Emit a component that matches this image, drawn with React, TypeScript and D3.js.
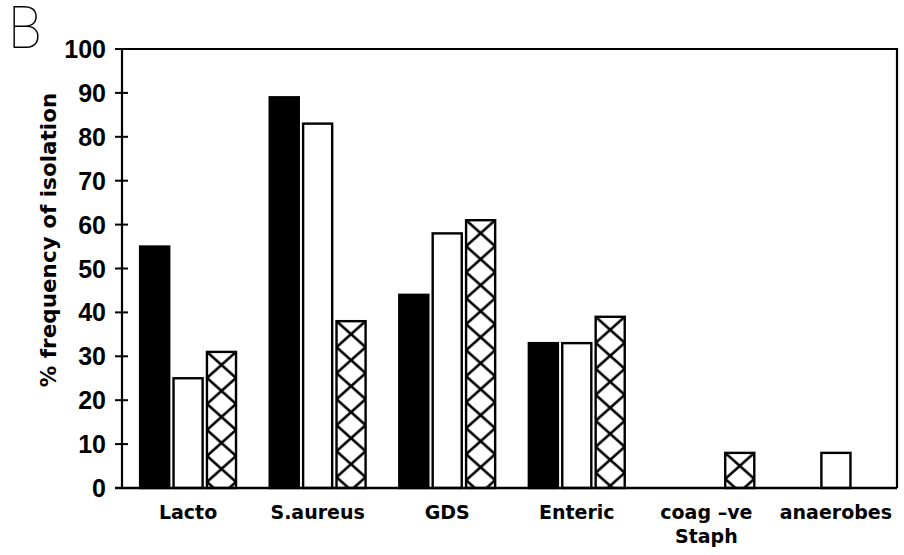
import React from "react";
import * as d3 from "d3";

const categories = ["Lacto", "S.aureus", "GDS", "Enteric", "coag –ve|Staph", "anaerobes"];
const series = ["solid", "open", "hatched"];
const solidValues = [55, 89, 44, 33, 0, 0];
const openValues = [25, 83, 58, 33, 0, 8];
const hatchedValues = [31, 38, 61, 39, 8, 0];
const yTicks = [0, 10, 20, 30, 40, 50, 60, 70, 80, 90, 100];

const W = 904;
const H = 555;
const left = 122;
const right = 897;
const top = 49;
const bottom = 488;
const numFont = "'Liberation Sans', Arial, sans-serif";
const textFont = "'DejaVu Sans', Verdana, sans-serif";

export default function App() {
  const x0 = d3
    .scaleBand<string>()
    .domain(categories)
    .range([left, 902])
    .paddingInner(0.26)
    .paddingOuter(0.14);
  const x1 = d3
    .scaleBand<string>()
    .domain(series)
    .range([0, x0.bandwidth()])
    .paddingInner(0.13);
  const y = d3.scaleLinear().domain([0, 100]).range([bottom, top]);

  const valuesBySeries: Record<string, number[]> = {
    solid: solidValues,
    open: openValues,
    hatched: hatchedValues,
  };

  const bars = categories
    .flatMap((c, i) => series.map((s) => ({ c, s, i, v: valuesBySeries[s][i] })))
    .filter((d) => d.v > 0);

  const bw = x1.bandwidth();
  const cell = 26;

  return (
    <div style={{ position: "absolute", left: 0, top: 0 }}>
      <svg width={W} height={H} style={{ display: "block", background: "#fff" }}>
        <defs>
          {bars
            .filter((d) => d.s === "hatched")
            .map((d) => (
              <pattern
                key={d.c}
                id={`hatch-${d.i}`}
                patternUnits="userSpaceOnUse"
                x={x0(d.c)! + x1(d.s)!}
                y={y(d.v)}
                width={bw}
                height={cell}
              >
                <rect width={bw} height={cell} fill="#fff" />
                <path
                  d={`M0,0L${bw},${cell}M${bw},0L0,${cell}`}
                  stroke="#000"
                  strokeWidth={2.6}
                  fill="none"
                />
              </pattern>
            ))}
        </defs>

        {/* panel letter */}
        <text
          x={8}
          y={48}
          fontFamily="Roboto, sans-serif"
          fontWeight={100}
          fontSize={60}
          transform="translate(8,0) scale(0.93,1) translate(-8,0)"
        >
          B
        </text>

        {/* bars */}
        {bars.map((d) => {
          const bx = x0(d.c)! + x1(d.s)!;
          const by = y(d.v);
          const fill =
            d.s === "solid" ? "#000" : d.s === "open" ? "#fff" : `url(#hatch-${d.i})`;
          return (
            <rect
              key={d.c + d.s}
              x={bx}
              y={by}
              width={bw}
              height={bottom - by}
              fill={fill}
              stroke="#000"
              strokeWidth={2.4}
            />
          );
        })}

        {/* frame */}
        <path
          d={`M${left - 7},${top}H${right}V${bottom}`}
          fill="none"
          stroke="#000"
          strokeWidth={2.2}
        />
        <line x1={left} x2={left} y1={top} y2={bottom} stroke="#000" strokeWidth={2.2} />
        <line x1={left - 7} x2={right} y1={bottom} y2={bottom} stroke="#000" strokeWidth={2.6} />

        {/* y ticks */}
        {yTicks.map((t) => (
          <g key={t} transform={`translate(0,${y(t)})`}>
            <line x1={left - 7} x2={left + 6} stroke="#000" strokeWidth={2} />
            <text
              x={106}
              dy="0.36em"
              textAnchor="end"
              fontFamily={numFont}
              fontWeight="bold"
              fontSize={25}
            >
              {t}
            </text>
          </g>
        ))}

        {/* y label */}
        <text
          transform="translate(56,240) rotate(-90)"
          textAnchor="middle"
          fontFamily={textFont}
          fontWeight="bold"
          fontSize={21.5}
        >
          % frequency of isolation
        </text>

        {/* category labels */}
        {categories.map((c) => (
          <text
            key={c}
            y={519}
            textAnchor="middle"
            fontFamily={textFont}
            fontWeight="bold"
            fontSize={19}
          >
            {c.split("|").map((part, k) => (
              <tspan key={k} x={x0(c)! + x0.bandwidth() / 2} dy={k === 0 ? 0 : 24}>
                {part}
              </tspan>
            ))}
          </text>
        ))}
      </svg>
    </div>
  );
}
